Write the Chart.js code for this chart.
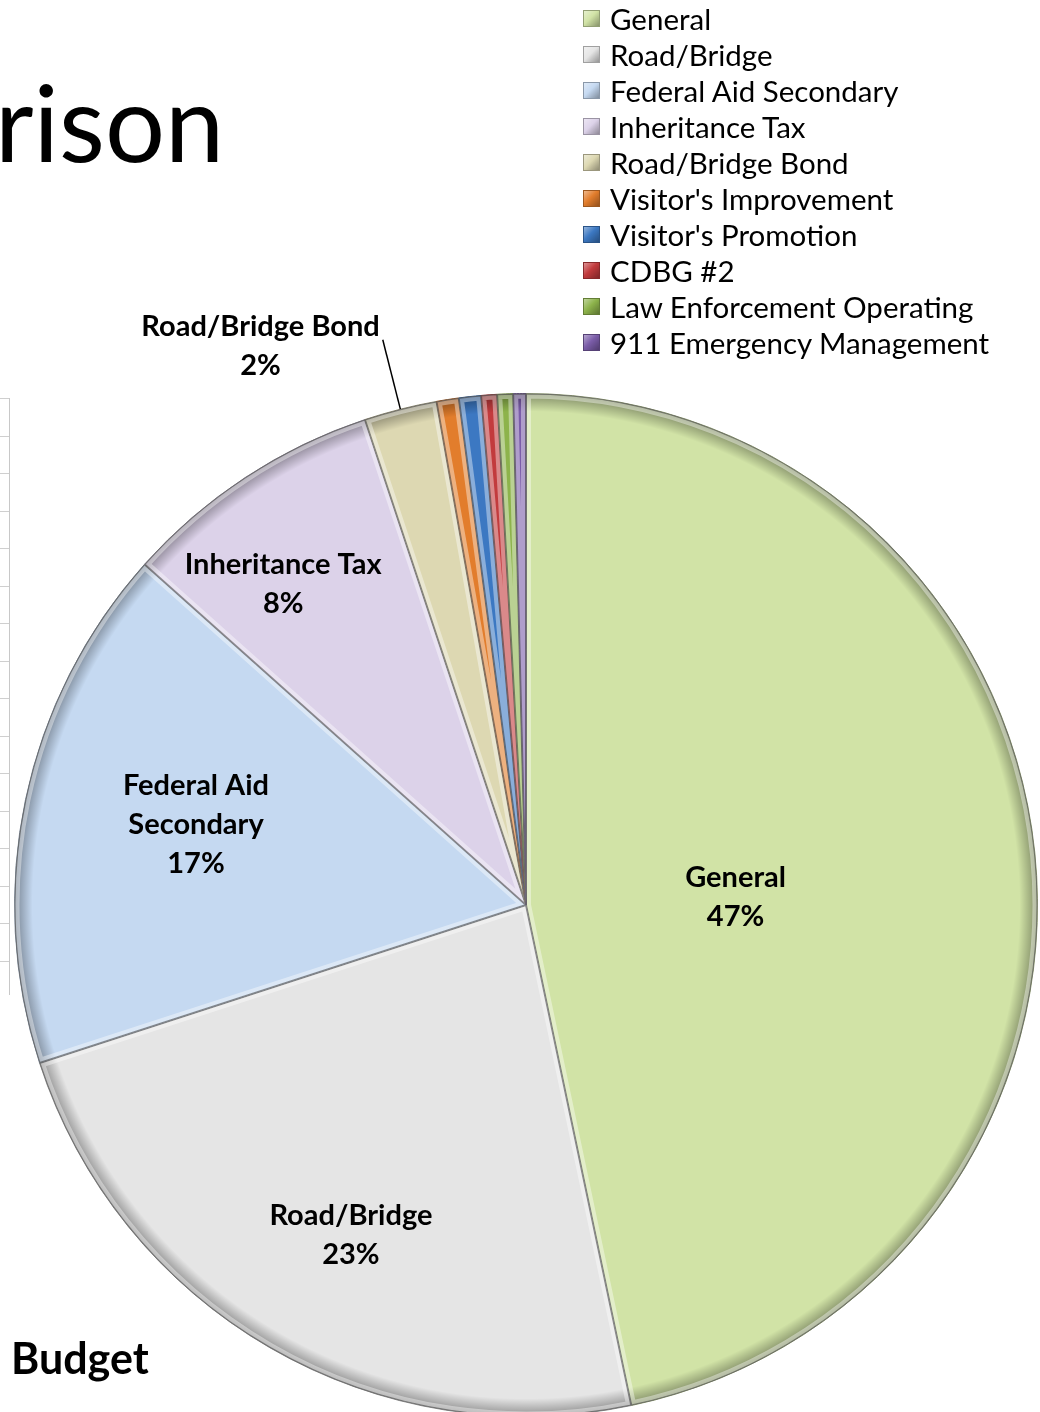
<!DOCTYPE html>
<html><head><meta charset="utf-8">
<script src="https://cdn.jsdelivr.net/npm/chart.js@4"></script>
<style>
html,body{margin:0;padding:0;width:1040px;height:1412px;overflow:hidden;background:#fff;font-family:Lato,"Open Sans",sans-serif;color:#000;}
#c{position:absolute;left:0;top:0;}
#title{position:absolute;left:-5px;top:68px;font-size:106px;line-height:1;white-space:nowrap;}
#sub{position:absolute;left:11px;top:1336px;font-size:43px;font-weight:bold;line-height:1;}
#legend{position:absolute;left:583px;top:0px;}
.li{height:36px;display:flex;align-items:center;font-size:29.5px;white-space:nowrap;}
.mk{width:17px;height:17px;margin-right:10px;box-sizing:border-box;}
#grid{position:absolute;left:0;top:398px;width:9px;height:597px;border-right:1px solid #c8c8c8;}
.tk{position:absolute;left:0;width:9px;height:0;border-top:1px solid #cfcfcf;}
</style></head>
<body>
<canvas id="c" width="1040" height="1420"></canvas>
<div id="grid"></div>
<div id="title">rison</div>
<div id="sub">Budget</div>
<div id="legend"></div>
<script>
const categories = ["General","Road/Bridge","Federal Aid Secondary","Inheritance Tax","Road/Bridge Bond","Visitor's Improvement","Visitor's Promotion","CDBG #2","Law Enforcement Operating","911 Emergency Management"];
const shares = [46.7, 23.3, 16.6, 8.3, 2.3, 0.7, 0.7, 0.5, 0.5, 0.4];
const sliceColors = ["#d1e3a6","#e5e5e5","#c5d9f1","#dcd2e9","#ddd8b2","#e27d2c","#3c78c2","#c23b3d","#8db34b","#7b5da9"];
const labelLines = [["General"],["Road/Bridge"],["Federal Aid","Secondary"],["Inheritance Tax"],["Road/Bridge Bond"],null,null,null,null,null];
const labelRadius = [0.41, 0.73, 0.664, 0.787, -1, 0, 0, 0, 0, 0];
const labelAngleShiftDeg = [3.7, -2.1, 1.8, -3.8, 0, 0, 0, 0, 0, 0];

// grid ticks (table behind the chart)
const grid = document.getElementById('grid');
for (let i = 0; i < 16; i++) {
  const t = document.createElement('div'); t.className = 'tk';
  t.style.top = (i * 37.5) + 'px'; grid.appendChild(t);
}
function shade(hex, f) {
  const n = parseInt(hex.slice(1), 16);
  let r = n >> 16, g = (n >> 8) & 255, b = n & 255;
  const m = v => Math.max(0, Math.min(255, Math.round(f < 0 ? v * (1 + f) : v + (255 - v) * f)));
  return `rgb(${m(r)},${m(g)},${m(b)})`;
}
// legend
const lg = document.getElementById('legend');
categories.forEach((c, i) => {
  const row = document.createElement('div'); row.className = 'li';
  const mk = document.createElement('div'); mk.className = 'mk';
  mk.style.background = `linear-gradient(135deg, ${shade(sliceColors[i],0.45)} 0%, ${sliceColors[i]} 45%, ${shade(sliceColors[i],-0.35)} 100%)`;
  mk.style.border = '1px solid ' + shade(sliceColors[i], -0.3);
  const tx = document.createElement('span'); tx.textContent = c;
  row.appendChild(mk); row.appendChild(tx); lg.appendChild(row);
});

const total = shares.reduce((a, b) => a + b, 0);

const bevel = {
  id: 'bevel',
  afterDatasetsDraw(chart) {
    const ctx = chart.ctx;
    chart.getDatasetMeta(0).data.forEach((el, i) => {
      const { x, y, startAngle, endAngle, outerRadius } = el.getProps(['x','y','startAngle','endAngle','outerRadius'], true);
      ctx.save();
      ctx.beginPath(); ctx.moveTo(x, y); ctx.arc(x, y, outerRadius, startAngle, endAngle); ctx.closePath();
      ctx.clip();
      const g = ctx.createRadialGradient(x, y, outerRadius - 18, x, y, outerRadius);
      g.addColorStop(0, 'rgba(0,0,0,0)');
      g.addColorStop(1, 'rgba(0,0,0,0.38)');
      ctx.fillStyle = g; ctx.fillRect(x - outerRadius, y - outerRadius, outerRadius * 2, outerRadius * 2);
      ctx.lineJoin = 'round';
      ctx.lineWidth = 10; ctx.strokeStyle = 'rgba(255,255,255,0.4)'; ctx.stroke();
      ctx.lineWidth = 2; ctx.strokeStyle = 'rgba(40,40,40,0.45)'; ctx.stroke();
      ctx.restore();
    });
  }
};

const labels = {
  id: 'sliceLabels',
  afterDatasetsDraw(chart) {
    const ctx = chart.ctx;
    ctx.save();
    ctx.font = 'bold 29px Lato, sans-serif';
    ctx.fillStyle = '#000'; ctx.textAlign = 'center'; ctx.textBaseline = 'middle';
    chart.getDatasetMeta(0).data.forEach((el, i) => {
      if (!labelLines[i]) return;
      const { x, y, startAngle, endAngle, outerRadius } = el.getProps(['x','y','startAngle','endAngle','outerRadius'], true);
      const mid = (startAngle + endAngle) / 2 + labelAngleShiftDeg[i] * Math.PI / 180;
      const pct = Math.round(shares[i] / total * 100) + '%';
      const lines = labelLines[i].concat([pct]);
      const lh = 39;
      if (labelRadius[i] > 0) {
        const r = outerRadius * labelRadius[i];
        const lx = x + Math.cos(mid) * r, ly = y + Math.sin(mid) * r;
        lines.forEach((t, k) => ctx.fillText(t, lx, ly + (k - (lines.length - 1) / 2) * lh));
      } else {
        const sx = x + Math.cos(mid) * outerRadius, sy = y + Math.sin(mid) * outerRadius;
        const ex = x + Math.cos(mid) * outerRadius * 1.14, ey = y + Math.sin(mid) * outerRadius * 1.14;
        ctx.strokeStyle = '#000'; ctx.lineWidth = 1.5;
        ctx.beginPath(); ctx.moveTo(sx, sy); ctx.lineTo(ex, ey); ctx.stroke();
        const w = ctx.measureText(lines[0]).width;
        const cx = ex - 3 - w / 2;
        ctx.fillText(lines[0], cx, ey - 13);
        ctx.fillText(lines[1], cx, ey + 26);
      }
    });
    ctx.restore();
  }
};

new Chart(document.getElementById('c'), {
  type: 'pie',
  data: {
    labels: categories,
    datasets: [{
      data: shares,
      backgroundColor: sliceColors,
      borderColor: sliceColors.map(c => shade(c, -0.35)),
      borderWidth: 1,
      hoverOffset: 0,
      offset: 0
    }]
  },
  options: {
    responsive: false,
    animation: false,
    devicePixelRatio: 1,
    layout: { padding: { left: 13, right: 1, top: 393, bottom: 3 } },
    plugins: { legend: { display: false }, tooltip: { enabled: false } },
    events: []
  },
  plugins: [bevel, labels]
});
</script>
</body></html>
